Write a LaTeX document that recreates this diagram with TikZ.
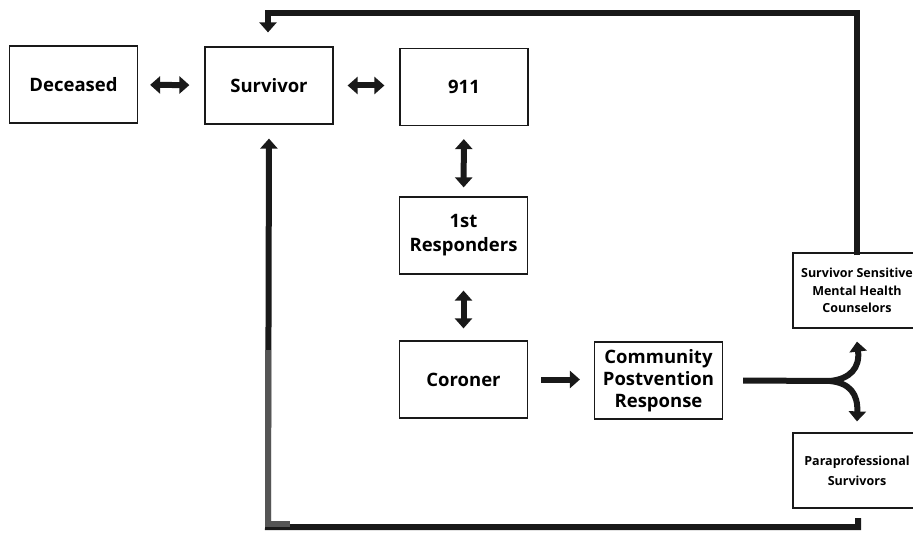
\documentclass[tikz,border=0pt]{standalone}
\usepackage{fontspec}
\setmainfont{Open Sans}
\usepackage{tikz}
\usetikzlibrary{arrows.meta, positioning, calc}
\definecolor{scanblack}{RGB}{25, 25, 25}
\definecolor{scangray}{RGB}{85, 85, 85}

\tikzset{
  stagebox/.style={draw=scanblack, line width=1.2pt, fill=white, minimum width=128pt,
    minimum height=77pt, inner xsep=2pt, align=center,
    font=\fontsize{18.5}{22}\selectfont\bfseries},
  smallbox/.style={stagebox, font=\fontsize{12.5}{17.5}\selectfont\bfseries},
  bothway/.style={draw=scanblack, line width=6pt,
    {Triangle[width=17pt,length=10pt]}-{Triangle[width=17pt,length=10pt]}},
  oneway/.style={draw=scanblack, line width=6pt, -{Triangle[width=17pt,length=10pt]}},
  feedline/.style={draw=scanblack, line width=6pt}
}

\begin{document}
\begin{tikzpicture}[x=1pt, y=-1pt]
        \useasboundingbox (0,0) rectangle (913,537);

        % top row
        \node[stagebox] (deceased) at (73.5,84.5) {Deceased};
        \node[stagebox] (survivor) at (269,85.5) {Survivor};
        \node[stagebox] (call) at (464,87) {911};

        % middle column
        \node[stagebox, font=\fontsize{18.5}{24}\selectfont\bfseries]
          (responders) at (463.5,235.5) {1st\\Responders};
        \node[stagebox] (coroner) at (463.5,379.5) {Coroner};
        \node[stagebox] (response) at (658.5,380.5) {Community\\Postvention\\Response};

        % right side (cut by the page edge)
        \node[smallbox, minimum height=75pt] (counselors) at (857,290.5)
          {Survivor Sensitive\\Mental Health\\Counselors};
        \node[smallbox, minimum height=75pt, font=\fontsize{12.5}{20}\selectfont\bfseries]
          (paraprof) at (857,470.5) {Paraprofessional\\Survivors};

        % chain arrows
        \draw[bothway, shorten <=12pt, shorten >=15pt] (deceased) -- (survivor);
        \draw[bothway, shorten <=14pt, shorten >=15pt] (survivor.east) -- (call.west |- survivor.east);
        \draw[bothway, shorten <=13pt, shorten >=9pt] (call) -- (responders);
        \draw[bothway, shorten <=16pt, shorten >=12pt] (responders) -- (coroner);
        \draw[oneway, shorten <=13pt, shorten >=14pt] (coroner) -- (response.west |- coroner.east);

        % fork to the two supports
        \coordinate (split) at (830,381);
        \draw[feedline] ([xshift=20pt]response.east) -- (split);
        \draw[oneway] (split) .. controls (850,379) and (860,368) .. ([yshift=-13pt]counselors.south);
        \draw[oneway] (split) .. controls (850,383) and (858,394) .. ([yshift=11pt]paraprof.north);

        % feedback loops back to the survivor
        \coordinate (topleft) at (268,13);
        \draw[oneway, line join=miter, shorten >=14pt] ([yshift=-3pt]counselors.north) |- (topleft) -- (topleft |- survivor.north);
        \coordinate (botright) at (858,518);
        \coordinate (botleft) at (268,527);
        \draw[oneway, line join=miter, shorten >=14pt] (botright) |- (botleft) -- (survivor.south);
        \draw[scangray, line width=6pt] (268,350) -- (268,524) -- (290,524);
\end{tikzpicture}
\end{document}
